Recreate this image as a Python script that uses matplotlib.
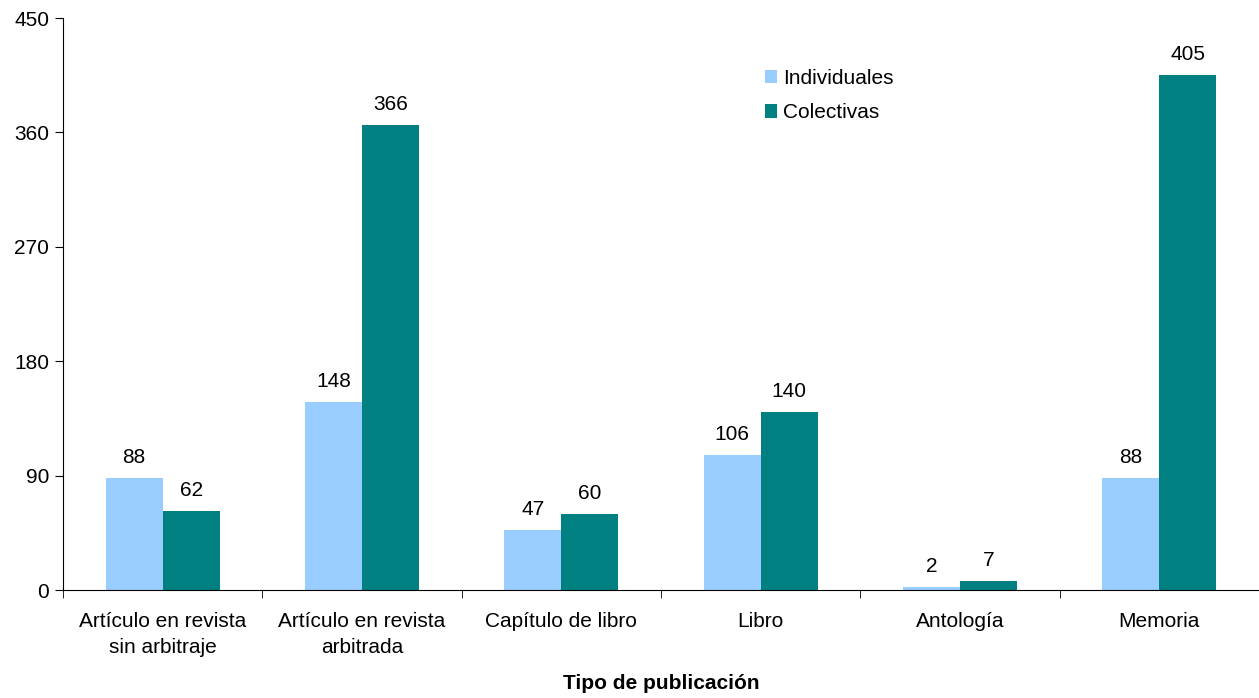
import numpy as np
import matplotlib.pyplot as plt

plt.rcParams['font.family'] = ['Liberation Sans', 'DejaVu Sans']

categorias = ["Artículo en revista\nsin arbitraje", "Artículo en revista\narbitrada",
              "Capítulo de libro", "Libro", "Antología", "Memoria"]
individuales = [88, 148, 47, 106, 2, 88]
colectivas = [62, 366, 60, 140, 7, 405]

fig = plt.figure(figsize=(12.59, 6.98), dpi=100)
ax = fig.add_axes([0.050, 0.1547, 0.950, 0.8195])

x = np.arange(len(categorias))
w = 0.286
b1 = ax.bar(x - w / 2, individuales, w, color="#99CCFF", label="Individuales")
b2 = ax.bar(x + w / 2, colectivas, w, color="#008080", label="Colectivas")

for bars in (b1, b2):
    for r in bars:
        ax.annotate(f"{int(r.get_height())}", (r.get_x() + r.get_width() / 2, r.get_height()),
                    xytext=(0, 8), textcoords="offset points", ha="center", va="bottom", fontsize=15)

ax.set_xlim(-0.5, len(categorias) - 0.5)
ax.set_ylim(0, 450)
ax.set_yticks(np.arange(0, 451, 90))
ax.tick_params(axis="y", labelsize=15, length=6, direction="out", pad=4)

# category labels centered, tick marks on the boundaries
ax.set_xticks(x)
ax.set_xticklabels(categorias, fontsize=15, linespacing=1.45)
ax.tick_params(axis="x", which="major", length=0, pad=16)
ax.set_xticks(np.arange(-0.5, len(categorias), 1), minor=True)
ax.tick_params(axis="x", which="minor", length=6, direction="out")

ax.spines["top"].set_visible(False)
ax.spines["right"].set_visible(False)

ax.set_xlabel("Tipo de publicación", fontsize=15, fontweight="bold", labelpad=12)

ax.legend(loc="upper left", bbox_to_anchor=(0.571, 0.944), frameon=False, fontsize=15,
          handlelength=0.6, handleheight=0.6, handletextpad=0.3, labelspacing=0.75)

plt.savefig("out.png")
plt.close()
